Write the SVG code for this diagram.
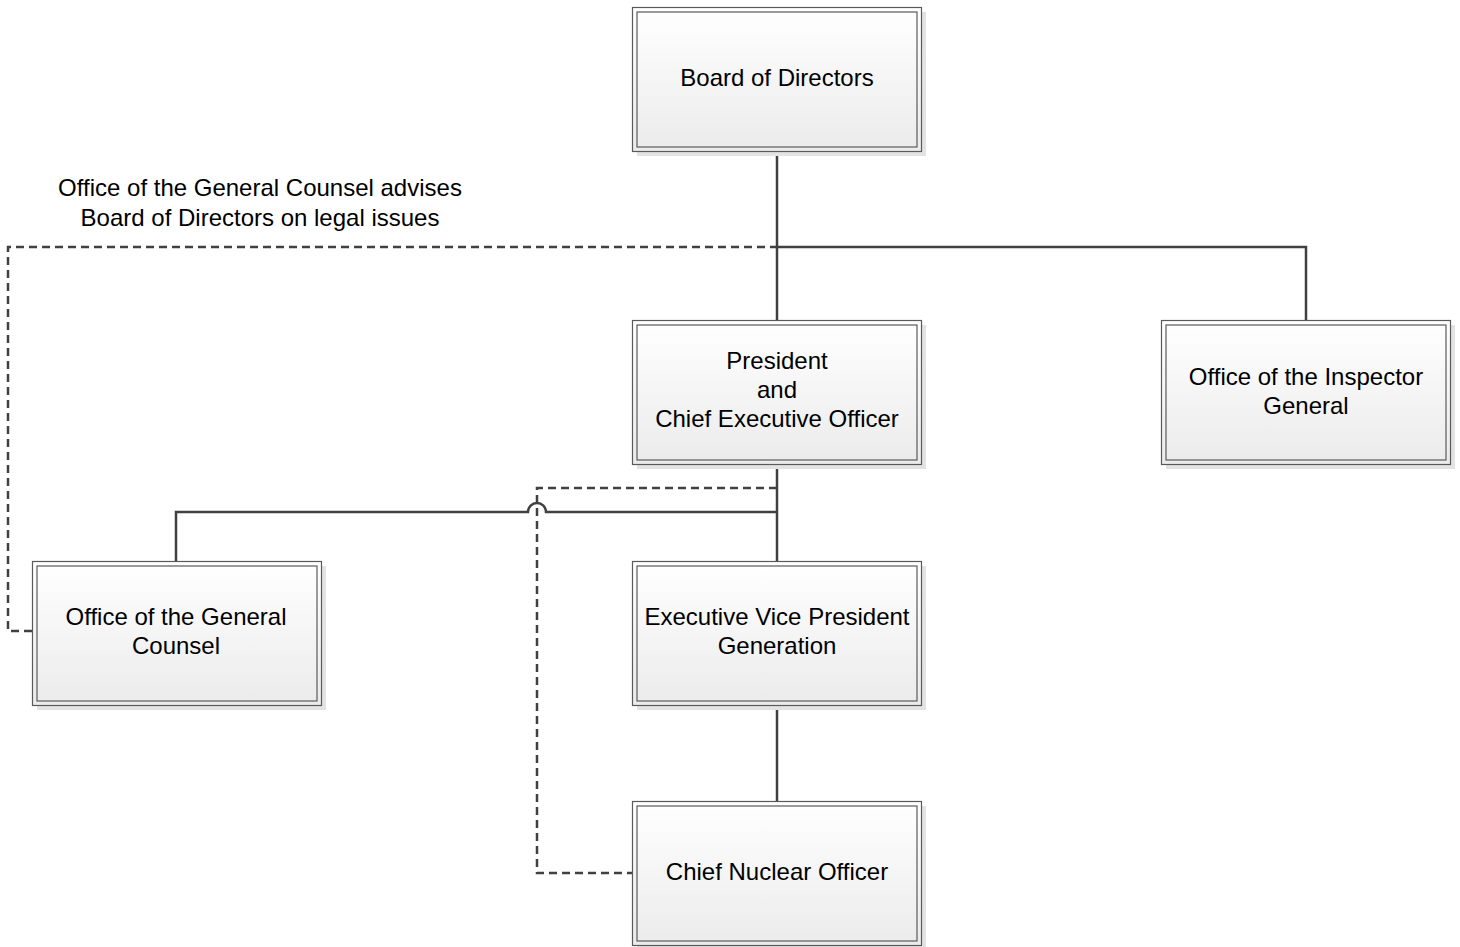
<svg xmlns="http://www.w3.org/2000/svg" width="1460" height="947" viewBox="0 0 1460 947">
<style>
  .shadow{fill:#e3e3e3;stroke:none}
  .outer{fill:url(#boxfill);stroke:#5a5a5a;stroke-width:1.2}
  .inner{fill:none;stroke:#5a5a5a;stroke-width:1.2}
  .lbl{font-family:"Liberation Sans",Arial,sans-serif;font-size:24px;fill:#000;text-anchor:middle}
  .solid{fill:none;stroke:#404040;stroke-width:2.5}
  .dash{fill:none;stroke:#404040;stroke-width:2.5;stroke-dasharray:8,5}
</style>
<defs>
  <linearGradient id="boxfill" x1="0" y1="0" x2="0" y2="1">
    <stop offset="0" stop-color="#ffffff"/>
    <stop offset="1" stop-color="#ebebeb"/>
  </linearGradient>
</defs>
<rect width="1460" height="947" fill="#ffffff"/>
<g id="connectors">
  <path class="solid" d="M777,151 V320"/>
  <path class="solid" d="M777,247 H1306 V320"/>
  <path class="solid" d="M777,464 V561"/>
  <path class="solid" d="M777,512 H546 A9 9 0 0 0 528 512 H176 V561"/>
  <path class="solid" d="M777,705 V801"/>
  <path class="dash" d="M32,631 H8 V247 H777"/>
  <path class="dash" d="M777,488 H537 V873 H632"/>
</g>
<g id="annotation">
  <text class="lbl" x="260" y="196">Office of the General Counsel advises</text>
  <text class="lbl" x="260" y="226">Board of Directors on legal issues</text>
</g>
<g id="board">
  <rect class="shadow" x="637" y="12" width="289" height="144"/>
  <rect class="outer" x="632.5" y="7.5" width="289" height="144"/>
  <rect class="inner" x="637" y="12" width="280" height="135"/>
  <text class="lbl" x="777" y="86">Board of Directors</text>
</g>
<g id="president">
  <rect class="shadow" x="637" y="325" width="289" height="144"/>
  <rect class="outer" x="632.5" y="320.5" width="289" height="144"/>
  <rect class="inner" x="637" y="325" width="280" height="135"/>
  <text class="lbl" x="777" y="369">President</text>
  <text class="lbl" x="777" y="398">and</text>
  <text class="lbl" x="777" y="427">Chief Executive Officer</text>
</g>
<g id="inspector">
  <rect class="shadow" x="1166" y="325" width="289" height="144"/>
  <rect class="outer" x="1161.5" y="320.5" width="289" height="144"/>
  <rect class="inner" x="1166" y="325" width="280" height="135"/>
  <text class="lbl" x="1306" y="385">Office of the Inspector</text>
  <text class="lbl" x="1306" y="414">General</text>
</g>
<g id="counsel">
  <rect class="shadow" x="37" y="566" width="289" height="144"/>
  <rect class="outer" x="32.5" y="561.5" width="289" height="144"/>
  <rect class="inner" x="37" y="566" width="280" height="135"/>
  <text class="lbl" x="176" y="625">Office of the General</text>
  <text class="lbl" x="176" y="654">Counsel</text>
</g>
<g id="evp">
  <rect class="shadow" x="637" y="566" width="289" height="144"/>
  <rect class="outer" x="632.5" y="561.5" width="289" height="144"/>
  <rect class="inner" x="637" y="566" width="280" height="135"/>
  <text class="lbl" x="777" y="625">Executive Vice President</text>
  <text class="lbl" x="777" y="654">Generation</text>
</g>
<g id="cno">
  <rect class="shadow" x="637" y="806" width="289" height="144"/>
  <rect class="outer" x="632.5" y="801.5" width="289" height="144"/>
  <rect class="inner" x="637" y="806" width="280" height="135"/>
  <text class="lbl" x="777" y="880">Chief Nuclear Officer</text>
</g>
</svg>
